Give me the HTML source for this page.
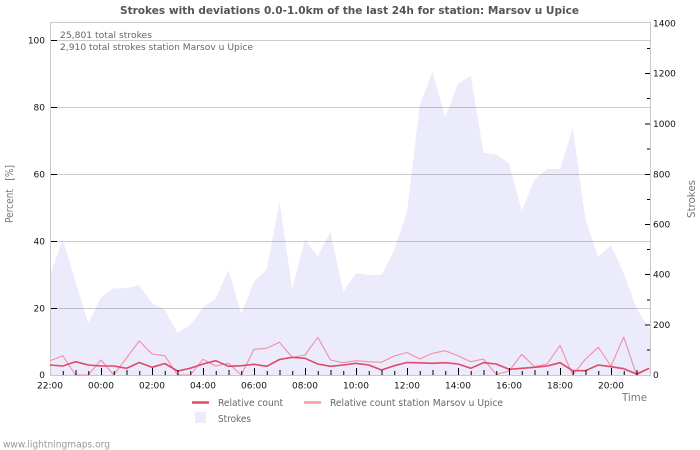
<!DOCTYPE html>
<html><head><meta charset="utf-8"><style>
html,body{margin:0;padding:0;background:#fff;}
svg{display:block;}
text{font-family:"DejaVu Sans","Liberation Sans",sans-serif;}
</style></head><body>
<svg width="700" height="450" viewBox="0 0 700 450" xmlns="http://www.w3.org/2000/svg">
<rect width="700" height="450" fill="#fff"/>
<text x="349.5" y="14" text-anchor="middle" font-size="10.5" font-weight="bold" fill="#555" textLength="459" lengthAdjust="spacingAndGlyphs">Strokes with deviations 0.0-1.0km of the last 24h for station: Marsov u Upice</text>

<!-- strokes area -->
<polygon fill="#ebebfc" points="50,375 50,275 62.75,239.3 75.5,281.7 88.25,323.3 101,297.3 113.75,288.3 126.5,288.3 139.25,285.3 152,303.3 164.75,310 177.5,332.7 190.25,325 203,307.7 215.75,298.3 228.5,270 241.25,314 254,281.7 266.75,269.3 279.5,201.7 292.25,288.3 305,239.3 317.75,256.7 330.5,231.7 343.25,291.7 356,273.3 368.75,275 381.5,275 394.25,250 407,211.7 419.75,105 432.5,71.7 445.25,116.7 458,84 470.75,75.7 483.5,152.7 496.25,154.3 509,163.3 521.75,210.7 534.5,179.3 547.25,169 560,169 572.75,128.3 585.5,220 598.25,256.7 611,245 623.75,273.3 636.5,308.3 649.25,328.3 650,328.5 650,375"/>

<!-- grid -->
<g stroke="#000" stroke-opacity="0.2" stroke-width="1">
<line x1="50" y1="40.5" x2="650" y2="40.5"/>
<line x1="50" y1="107.5" x2="650" y2="107.5"/>
<line x1="50" y1="174.5" x2="650" y2="174.5"/>
<line x1="50" y1="241.5" x2="650" y2="241.5"/>
<line x1="50" y1="308.5" x2="650" y2="308.5"/>
</g>

<!-- frame -->
<g stroke="#c8c8c8" stroke-width="1" fill="none">
<line x1="50" y1="22.5" x2="650.5" y2="22.5"/>
<line x1="50.5" y1="22" x2="50.5" y2="375.5"/>
<line x1="650.5" y1="22" x2="650.5" y2="375.5"/>
<line x1="50" y1="375.5" x2="651" y2="375.5"/>
</g>

<!-- lines -->
<polyline fill="none" stroke="#f090a8" stroke-width="1.1" stroke-linejoin="round" points="50,360.7 62.75,355.7 75.5,375 88.25,375 101,360 113.75,375 126.5,358 139.25,341 152,354 164.75,355.7 177.5,375 190.25,375 203,359.3 215.75,366 228.5,363.3 241.25,375 254,349.3 266.75,348.3 279.5,342.3 292.25,357.5 305,355 317.75,337.3 330.5,360 343.25,362.7 356,360.7 368.75,361.7 381.5,362.3 394.25,356 407,352.5 419.75,359 432.5,353.3 445.25,350.7 458,355.7 470.75,361.7 483.5,359 496.25,374.5 509,371 521.75,354.3 534.5,366.7 547.25,364 560,345.3 572.75,375 585.5,359 598.25,347.3 611,366 623.75,337 636.5,375 649.25,368.3"/>
<polyline fill="none" stroke="#e04a68" stroke-width="1.6" stroke-linejoin="round" points="50,365 62.75,366 75.5,361.7 88.25,365 101,366 113.75,366 126.5,368.3 139.25,362.5 152,367.3 164.75,363.5 177.5,371 190.25,368.3 203,364 215.75,360.7 228.5,366.3 241.25,365.7 254,364.3 266.75,366.3 279.5,359.5 292.25,357.3 305,358.3 317.75,364 330.5,366.3 343.25,365 356,363.3 368.75,365 381.5,370 394.25,365.7 407,362.5 419.75,362.8 432.5,363.3 445.25,362.7 458,364 470.75,368.3 483.5,362.7 496.25,364 509,369.3 521.75,368.3 534.5,367.3 547.25,366 560,362.7 572.75,370.7 585.5,370.7 598.25,365 611,366.7 623.75,368.7 636.5,374 649.25,368.3"/>

<!-- left ticks -->
<g stroke="#000" stroke-width="1">
<line x1="51" y1="40.5" x2="57" y2="40.5"/>
<line x1="51" y1="107.5" x2="57" y2="107.5"/>
<line x1="51" y1="174.5" x2="57" y2="174.5"/>
<line x1="51" y1="241.5" x2="57" y2="241.5"/>
<line x1="51" y1="308.5" x2="57" y2="308.5"/>
</g>
<!-- right ticks -->
<g stroke="#000" stroke-width="1">
<line x1="645" y1="73.5" x2="650" y2="73.5"/>
<line x1="645" y1="124" x2="650" y2="124"/>
<line x1="645" y1="174.5" x2="650" y2="174.5"/>
<line x1="645" y1="224.5" x2="650" y2="224.5"/>
<line x1="645" y1="274.5" x2="650" y2="274.5"/>
<line x1="645" y1="325" x2="650" y2="325"/>
<line x1="647" y1="48.5" x2="650" y2="48.5"/>
<line x1="647" y1="98.5" x2="650" y2="98.5"/>
<line x1="647" y1="149" x2="650" y2="149"/>
<line x1="647" y1="199.5" x2="650" y2="199.5"/>
<line x1="647" y1="249.5" x2="650" y2="249.5"/>
<line x1="647" y1="300" x2="650" y2="300"/>
<line x1="647" y1="350" x2="650" y2="350"/>
</g>
<!-- bottom ticks -->
<g stroke="#000" stroke-width="1">
<line x1="63.25" y1="371" x2="63.25" y2="375"/>
<line x1="76" y1="370" x2="76" y2="375"/>
<line x1="88.75" y1="371" x2="88.75" y2="375"/>
<line x1="101.5" y1="368" x2="101.5" y2="375"/>
<line x1="114.25" y1="371" x2="114.25" y2="375"/>
<line x1="127" y1="370" x2="127" y2="375"/>
<line x1="139.75" y1="371" x2="139.75" y2="375"/>
<line x1="152.5" y1="368" x2="152.5" y2="375"/>
<line x1="165.25" y1="371" x2="165.25" y2="375"/>
<line x1="178" y1="370" x2="178" y2="375"/>
<line x1="190.75" y1="371" x2="190.75" y2="375"/>
<line x1="203.5" y1="368" x2="203.5" y2="375"/>
<line x1="216.25" y1="371" x2="216.25" y2="375"/>
<line x1="229" y1="370" x2="229" y2="375"/>
<line x1="241.75" y1="371" x2="241.75" y2="375"/>
<line x1="254.5" y1="368" x2="254.5" y2="375"/>
<line x1="267.25" y1="371" x2="267.25" y2="375"/>
<line x1="280" y1="370" x2="280" y2="375"/>
<line x1="292.75" y1="371" x2="292.75" y2="375"/>
<line x1="305.5" y1="368" x2="305.5" y2="375"/>
<line x1="318.25" y1="371" x2="318.25" y2="375"/>
<line x1="331" y1="370" x2="331" y2="375"/>
<line x1="343.75" y1="371" x2="343.75" y2="375"/>
<line x1="356.5" y1="368" x2="356.5" y2="375"/>
<line x1="369.25" y1="371" x2="369.25" y2="375"/>
<line x1="382" y1="370" x2="382" y2="375"/>
<line x1="394.75" y1="371" x2="394.75" y2="375"/>
<line x1="407.5" y1="368" x2="407.5" y2="375"/>
<line x1="420.25" y1="371" x2="420.25" y2="375"/>
<line x1="433" y1="370" x2="433" y2="375"/>
<line x1="445.75" y1="371" x2="445.75" y2="375"/>
<line x1="458.5" y1="368" x2="458.5" y2="375"/>
<line x1="471.25" y1="371" x2="471.25" y2="375"/>
<line x1="484" y1="370" x2="484" y2="375"/>
<line x1="496.75" y1="371" x2="496.75" y2="375"/>
<line x1="509.5" y1="368" x2="509.5" y2="375"/>
<line x1="522.25" y1="371" x2="522.25" y2="375"/>
<line x1="535" y1="370" x2="535" y2="375"/>
<line x1="547.75" y1="371" x2="547.75" y2="375"/>
<line x1="560.5" y1="368" x2="560.5" y2="375"/>
<line x1="573.25" y1="371" x2="573.25" y2="375"/>
<line x1="586" y1="370" x2="586" y2="375"/>
<line x1="598.75" y1="371" x2="598.75" y2="375"/>
<line x1="611.5" y1="368" x2="611.5" y2="375"/>
<line x1="624.25" y1="371" x2="624.25" y2="375"/>
<line x1="637" y1="370" x2="637" y2="375"/>
</g>

<!-- left labels -->
<g font-size="9" fill="#111" text-anchor="end">
<text x="45" y="43.5">100</text>
<text x="45" y="110.5">80</text>
<text x="45" y="177.5">60</text>
<text x="45" y="244.5">40</text>
<text x="45" y="311.5">20</text>
<text x="45" y="378">0</text>
</g>
<!-- right labels -->
<g font-size="9" fill="#111">
<text x="653" y="26.5">1400</text>
<text x="653" y="76.5">1200</text>
<text x="653" y="127">1000</text>
<text x="653" y="177.5">800</text>
<text x="653" y="227.5">600</text>
<text x="653" y="277.5">400</text>
<text x="653" y="328">200</text>
<text x="653" y="378">0</text>
</g>
<!-- x labels -->
<g font-size="9" fill="#111" text-anchor="middle">
<text x="50" y="388.5">22:00</text>
<text x="101" y="388.5">00:00</text>
<text x="152" y="388.5">02:00</text>
<text x="203" y="388.5">04:00</text>
<text x="254" y="388.5">06:00</text>
<text x="305" y="388.5">08:00</text>
<text x="356" y="388.5">10:00</text>
<text x="407" y="388.5">12:00</text>
<text x="458" y="388.5">14:00</text>
<text x="509" y="388.5">16:00</text>
<text x="560" y="388.5">18:00</text>
<text x="611" y="388.5">20:00</text>
</g>

<!-- info -->
<text x="60" y="38" font-size="9" fill="#666" textLength="92" lengthAdjust="spacingAndGlyphs">25,801 total strokes</text>
<text x="60" y="50" font-size="9" fill="#666" textLength="193" lengthAdjust="spacingAndGlyphs">2,910 total strokes station Marsov u Upice</text>

<!-- axis titles -->
<text x="622" y="401" font-size="11" fill="#777" textLength="25" lengthAdjust="spacingAndGlyphs">Time</text>
<text transform="translate(695,199) rotate(-90)" text-anchor="middle" font-size="11" fill="#777" textLength="38" lengthAdjust="spacingAndGlyphs">Strokes</text>
<text transform="translate(13,194) rotate(-90)" text-anchor="middle" font-size="11" fill="#777" textLength="58" lengthAdjust="spacingAndGlyphs">Percent&#160;&#160;&#160;[%]</text>

<!-- legend -->
<line x1="192" y1="402.5" x2="209" y2="402.5" stroke="#e04a68" stroke-width="2.5"/>
<text x="218" y="406" font-size="9.5" fill="#666" textLength="65" lengthAdjust="spacingAndGlyphs">Relative count</text>
<line x1="304" y1="402.5" x2="321" y2="402.5" stroke="#f79aa6" stroke-width="2.5"/>
<text x="330" y="406" font-size="9.5" fill="#666" textLength="173" lengthAdjust="spacingAndGlyphs">Relative count station Marsov u Upice</text>
<rect x="195" y="412" width="11" height="11" fill="#ebebfc"/>
<text x="218" y="422" font-size="9.5" fill="#666" textLength="33" lengthAdjust="spacingAndGlyphs">Strokes</text>

<text x="3" y="447.5" font-size="9.5" fill="#999" textLength="107" lengthAdjust="spacingAndGlyphs">www.lightningmaps.org</text>
</svg>
</body></html>
